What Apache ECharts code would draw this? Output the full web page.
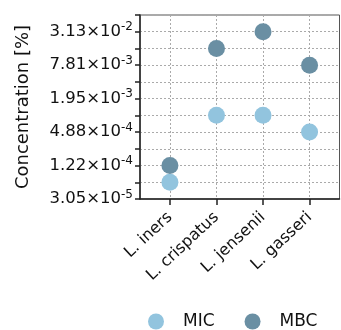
<!DOCTYPE html>
<html><head><meta charset="utf-8">
<script src="https://cdn.jsdelivr.net/npm/echarts@6/dist/echarts.min.js"></script>
<style>html,body{margin:0;padding:0;background:#fff}#c{width:341px;height:330px}</style>
</head><body><div id="c"></div>
<script>
const categories = ['L. iners', 'L. crispatus', 'L. jensenii', 'L. gasseri'];
const micValues = [6.10e-5, 9.77e-4, 9.77e-4, 4.88e-4];
const mbcValues = [1.22e-4, 1.56e-2, 3.13e-2, 7.81e-3];
const yTickValues = [3.05e-5, 1.22e-4, 4.88e-4, 1.95e-3, 7.81e-3, 3.13e-2];
const yTickMantissas = ['3.05', '1.22', '4.88', '1.95', '7.81', '3.13'];
const yTickExponents = ['-5', '-4', '-4', '-3', '-3', '-2'];

const FONT = 'DejaVu Sans, Liberation Sans, Arial, sans-serif';
const chart = echarts.init(document.getElementById('c'), null, {renderer: 'canvas'});
const catIdx = categories.map((c, i) => i);

function yLabel(val) {
  for (let i = 0; i < yTickValues.length; i++) {
    if (Math.abs(Math.log2(val) - Math.log2(yTickValues[i])) < 0.05) {
      return '{m|' + yTickMantissas[i] + '×10}{e|' + yTickExponents[i] + '}';
    }
  }
  return '';
}

chart.setOption({
  animation: false,
  grid: {left: 140, right: 1.5, top: 15, bottom: 131, containLabel: false,
         show: true, borderColor: '#555', borderWidth: 1},
  legend: {
    top: 308, left: 143, icon: 'circle', itemWidth: 16, itemHeight: 16, itemGap: 30,
    textStyle: {fontFamily: FONT, fontSize: 17, color: '#111', padding: [0, 0, 0, 14]},
    data: ['MIC', 'MBC']
  },
  xAxis: {
    type: 'value', min: -0.643, max: 3.643,
    axisLine: {show: true, onZero: false, lineStyle: {color: '#222', width: 1.5}},
    axisTick: {show: true, length: 6, customValues: catIdx, lineStyle: {color: '#222', width: 1.5}},
    splitLine: {show: true, customValues: catIdx, lineStyle: {color: '#aaa', type: [2, 2], width: 1}},
    axisLabel: {
      rotate: 43, margin: 16, fontFamily: FONT, fontSize: 16, color: '#111', customValues: catIdx,
      formatter: v => categories[Math.round(v)] || ''
    }
  },
  yAxis: {
    type: 'log', logBase: 2, min: Math.pow(2, -15), max: Math.pow(2, -4), interval: 1,
    name: 'Concentration [%]', nameLocation: 'middle', nameGap: 108,
    nameTextStyle: {fontFamily: FONT, fontSize: 18, color: '#111'},
    axisLine: {show: true, onZero: false, lineStyle: {color: '#222', width: 1.5}},
    axisTick: {show: true, length: 5, lineStyle: {color: '#222', width: 1.5}},
    splitLine: {show: true, lineStyle: {color: '#aaa', type: [2, 2], width: 1}},
    axisLabel: {
      margin: 7, color: '#111', formatter: yLabel,
      rich: {
        m: {fontFamily: FONT, fontSize: 16.5, color: '#111'},
        e: {fontFamily: FONT, fontSize: 12, color: '#111', padding: [0, 0, 9, 0]}
      }
    }
  },
  series: [
    {name: 'MIC', type: 'scatter', symbolSize: 17, itemStyle: {color: '#92c4de', opacity: 1},
     data: micValues.map((v, i) => [i, v])},
    {name: 'MBC', type: 'scatter', symbolSize: 17, itemStyle: {color: '#6a8fa3', opacity: 1},
     data: mbcValues.map((v, i) => [i, v])}
  ]
});
</script></body></html>
